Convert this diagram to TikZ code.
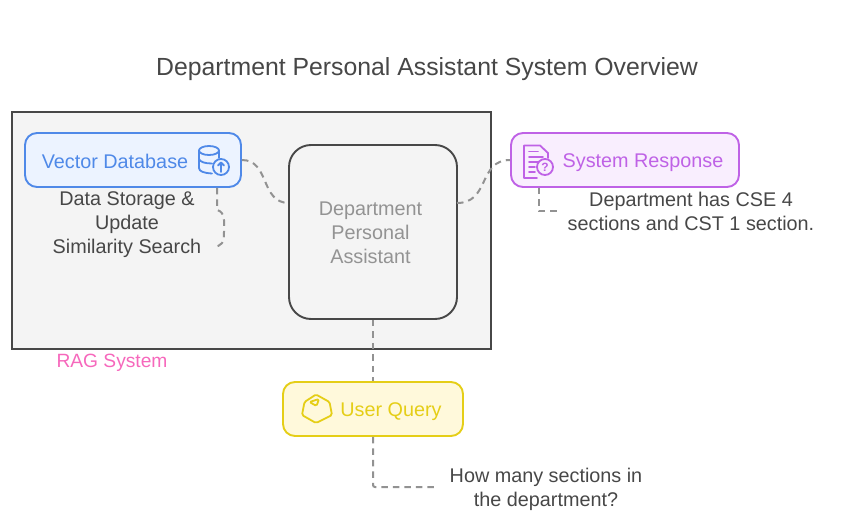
\documentclass[tikz,border=0pt]{standalone}
\usepackage{fontspec}
\setmainfont{Liberation Sans}
\definecolor{inkgray}{HTML}{474747}
\definecolor{linkgray}{HTML}{929292}
\definecolor{ragfill}{HTML}{F4F4F4}
\definecolor{ragpink}{HTML}{F668BC}
\definecolor{dbblue}{HTML}{4F89E8}
\definecolor{dbfill}{HTML}{ECF3FF}
\definecolor{resppurple}{HTML}{BF62E6}
\definecolor{respfill}{HTML}{F9EEFE}
\definecolor{queryyellow}{HTML}{E5CE17}
\definecolor{queryfill}{HTML}{FFF9DB}
\tikzset{
  card/.style={draw, line width=1.9pt, rounded corners=12pt, minimum height=54pt},
  note/.style={inkgray, align=center, font=\fontsize{19.8}{24}\selectfont},
  cardtext/.style={font=\fontsize{19.8}{24}\selectfont},
  link/.style={linkgray, line width=2pt, dash pattern=on 6.5pt off 5pt},
  glyph/.style={line width=1.8pt, line join=round, line cap=round},
}
\begin{document}
\begin{tikzpicture}[x=1pt,y=-1pt]
    \useasboundingbox (0,0) rectangle (854,530);
    \node (title) at (427,69) [inkgray, font=\fontsize{24.8}{29}\selectfont] {Department Personal Assistant System Overview};
    \node (rag) at (251.5,230.5) [draw=inkgray, fill=ragfill, line width=1.9pt, minimum width=479pt, minimum height=237pt] {};
    \node (ragLabel) at (112,363) [ragpink, font=\fontsize{19.2}{24}\selectfont] {RAG System};
    % boxes
    \node (db) at (133,160) [card, draw=dbblue, fill=dbfill, minimum width=216pt] {};
    \node (dbLabel) at (115,161) [dbblue, cardtext] {Vector Database};
    \node (dpa) at (373,232) [draw=inkgray, fill=ragfill, line width=1.9pt, rounded corners=22pt, minimum width=168pt, minimum height=174pt] {};
    \node (dpaLabel) at (370.5,233) [align=center, text=gray!85, font=\fontsize{19.8}{24}\selectfont] {Department\\Personal\\Assistant};
    \node (resp) at (625,160) [card, draw=resppurple, fill=respfill, minimum width=228pt] {};
    \node (respLabel) at (643,163) [resppurple, cardtext] {System Response};
    \node (query) at (373,409) [card, draw=queryyellow, fill=queryfill, minimum width=180pt] {};
    \node (queryLabel) at (391,412) [queryyellow, cardtext] {User Query};
    % notes
    \node (dbNote) at (127,225) [note] {Data Storage \&\\Update\\Similarity Search};
    \node (respNote) at (691,211) [note] {Department has CSE 4\\sections and CST 1 section.};
    \node (queryNote) at (546,489) [note] {How many sections in\\the department?};
    % free ends of the links
    \coordinate (dbBend) at (217,210);
    \coordinate (dbEnd) at (213,247);
    \coordinate (dpaIn) at (289,203);
    \coordinate (dpaOut) at (457,203);
    \coordinate (respBend) at (539,211);
    \coordinate (respEnd) at (558,211);
    \coordinate (queryEnd) at (437,487);
    % links
    \draw[link] (db.east) .. controls (270,160) and (260,203) .. (dpaIn);
    \draw[link] (dpaOut) .. controls (490,203) and (478,160) .. (resp.west);
    \draw[link] (db.south -| dbBend) -- (dbBend) .. controls (226,212) and (224,224) .. (224,232) .. controls (224,243) and (222,246) .. (dbEnd);
    \draw[link] (resp.south -| respBend) -- (respBend) -- (respEnd);
    \draw[link] (dpa.south) -- (query.north);
    \draw[link, rounded corners=2pt] (query.south) |- (queryEnd);
    % database icon
    \begin{scope}[glyph, draw=dbblue]
      \draw (209,150.5) ellipse [x radius=10, y radius=4.5];
      \draw (199,150.5) -- (199,168) .. controls (199,171.5) and (204,173) .. (212,173.5);
      \draw (219,150.5) -- (219,158);
      \draw (199,159) .. controls (200,162) and (205,163.5) .. (212,163.5);
      \draw[fill=dbfill] (221,167) circle [radius=8];
      \draw (221,172) -- (221,163) (218,165.5) -- (221,162.5) -- (224,165.5);
    \end{scope}
    % response icon
    \begin{scope}[glyph, draw=resppurple]
      \draw (537,178) -- (524,178) -- (524,145.5) -- (540,145.5) -- (548,153) -- (548,158);
      \draw (529,151.5) -- (538,151.5) (529,157) -- (543,157) (529,162) -- (541,162) (529,167) -- (535,167) (529,172) -- (535,172);
      \draw[fill=respfill] (545,167) circle [radius=8];
      \node (respMark) at (545,167) [resppurple, inner sep=0pt, font=\bfseries\fontsize{12}{12}\selectfont] {?};
    \end{scope}
    % query icon
    \begin{scope}[glyph, draw=queryyellow, rounded corners=1.5pt]
      \draw (316,394.5) -- (329.5,402) -- (332,415) -- (316,423) -- (302,415) -- (304.5,402) -- cycle;
      \draw (309.5,402) -- (319,399) -- (316.5,406) -- cycle;
    \end{scope}
\end{tikzpicture}
\end{document}
